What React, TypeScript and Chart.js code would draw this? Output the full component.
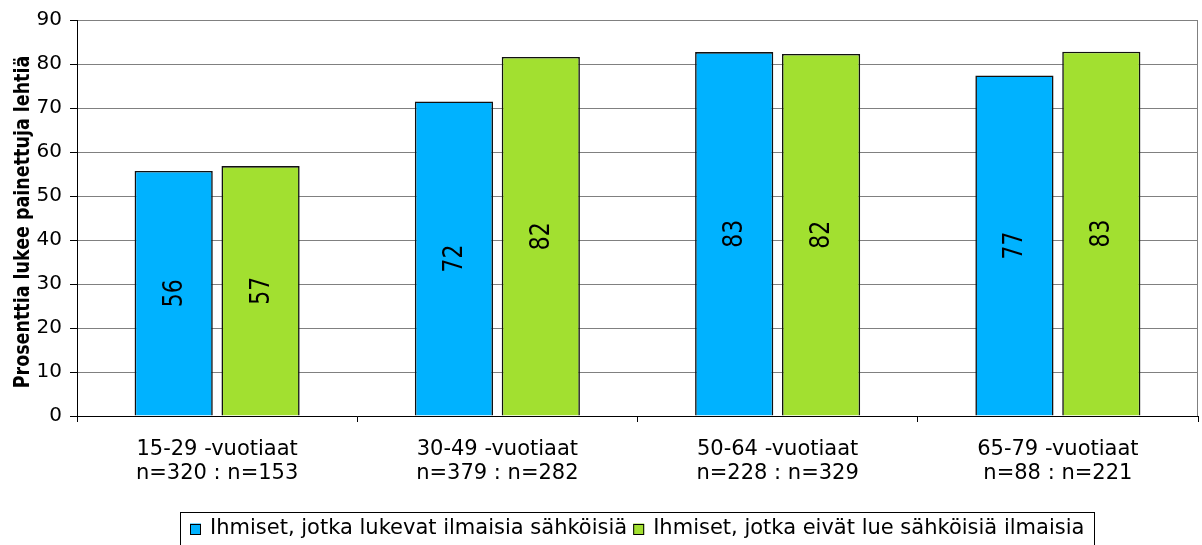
import React, { useEffect, useRef } from "react";
import { Chart, registerables } from "chart.js";

Chart.register(...registerables);

const categories: string[][] = [
  ["15-29 -vuotiaat", "n=320 : n=153"],
  ["30-49 -vuotiaat", "n=379 : n=282"],
  ["50-64 -vuotiaat", "n=228 : n=329"],
  ["65-79 -vuotiaat", "n=88 : n=221"],
];
const seriesLabels = [
  "Ihmiset, jotka lukevat ilmaisia sähköisiä",
  "Ihmiset, jotka eivät lue sähköisiä ilmaisia",
];
const freeReaders = [55.7, 71.5, 82.7, 77.4];
const nonReaders = [56.8, 81.6, 82.3, 82.8];
const seriesColors = ["#00B2FF", "#A2E030"];
const yTitle = "Prosenttia lukee painettuja lehtiä";
const FONT = "'DejaVu Sans', Verdana, sans-serif";

const decorPlugin = {
  id: "decor",
  afterDatasetsDraw(chart: any) {
    const ctx = chart.ctx;
    const area = chart.chartArea;
    ctx.save();
    // right border
    ctx.strokeStyle = "#808080";
    ctx.lineWidth = 1;
    ctx.beginPath();
    ctx.moveTo(Math.round(area.right) - 0.5, area.top);
    ctx.lineTo(Math.round(area.right) - 0.5, area.bottom);
    ctx.stroke();
    // data labels
    ctx.fillStyle = "#000";
    ctx.font = `22px ${FONT}`;
    ctx.textAlign = "center";
    ctx.textBaseline = "middle";
    chart.data.datasets.forEach((ds: any, di: number) => {
      const meta = chart.getDatasetMeta(di);
      meta.data.forEach((bar: any, i: number) => {
        const cy = (bar.y + bar.base) / 2;
        ctx.save();
        ctx.translate(bar.x, cy);
        ctx.scale(1.2, 1);
        ctx.rotate(-Math.PI / 2);
        ctx.fillText(String(Math.round(ds.data[i])), 0, 1);
        ctx.restore();
      });
    });
    // y title
    ctx.save();
    ctx.font = `bold 17.5px ${FONT}`;
    ctx.textBaseline = "alphabetic";
    ctx.translate(29, 222);
    ctx.scale(1.2, 1);
    ctx.rotate(-Math.PI / 2);
    ctx.fillText(yTitle, 0, 0);
    ctx.restore();
    // legend
    ctx.font = `21px ${FONT}`;
    ctx.textAlign = "left";
    const box = 11;
    const gapAfterBox = 9;
    const gapItems = 6;
    const widths = chart.data.datasets.map((d: any) => ctx.measureText(d.label).width);
    let total = 0;
    widths.forEach((w: number, i: number) => {
      total += box + gapAfterBox + w + (i < widths.length - 1 ? gapItems : 0);
    });
    const padX = 10;
    const cx = (area.left + area.right) / 2;
    const left = Math.round(cx - total / 2 - padX);
    const top = 512;
    const height = 40;
    ctx.strokeStyle = "#000";
    ctx.lineWidth = 1;
    ctx.strokeRect(left + 0.5, top + 0.5, Math.round(total + 2 * padX), height);
    let x = left + padX;
    const my = 529;
    chart.data.datasets.forEach((d: any, i: number) => {
      ctx.fillStyle = d.backgroundColor;
      ctx.fillRect(x, my - box / 2, box, box);
      ctx.strokeStyle = "#000";
      ctx.strokeRect(x + 0.5, Math.round(my - box / 2) + 0.5, box - 1, box - 1);
      x += box + gapAfterBox;
      ctx.fillStyle = "#000";
      ctx.fillText(d.label, x, my);
      x += widths[i] + gapItems;
    });
    ctx.restore();
  },
};

export default function App() {
  const ref = useRef<HTMLCanvasElement>(null);
  useEffect(() => {
    document.body.style.margin = "0";
    const chart = new Chart(ref.current!, {
      type: "bar",
      data: {
        labels: categories,
        datasets: [
          {
            label: seriesLabels[0],
            data: freeReaders,
            backgroundColor: seriesColors[0],
            borderColor: "#111",
            borderWidth: 1.6,
            categoryPercentage: 0.62,
            barPercentage: 0.9,
          },
          {
            label: seriesLabels[1],
            data: nonReaders,
            backgroundColor: seriesColors[1],
            borderColor: "#111",
            borderWidth: 1.6,
            categoryPercentage: 0.62,
            barPercentage: 0.9,
          },
        ],
      },
      plugins: [decorPlugin],
      options: {
        animation: false,
        responsive: false,
        maintainAspectRatio: false,
        layout: { padding: { left: 0, top: 20, right: 4, bottom: 0 } },
        plugins: {
          legend: { display: false },
          tooltip: { enabled: false },
        },
        scales: {
          x: {
            afterFit: (s: any) => {
              s.height = 129;
            },
            grid: {
              offset: true,
              drawOnChartArea: false,
              tickLength: 6,
              color: "#000",
            },
            border: { color: "#000", width: 1 },
            ticks: {
              color: "#000",
              font: { family: FONT, size: 21, lineHeight: 1.15 },
              padding: 15,
              maxRotation: 0,
              autoSkip: false,
            },
          },
          y: {
            min: 0,
            max: 90,
            afterFit: (s: any) => {
              s.width = 77;
            },
            grid: {
              color: "#808080",
              tickColor: "#000",
              tickLength: 7,
            },
            border: { color: "#000", width: 1 },
            ticks: {
              stepSize: 10,
              color: "#000",
              font: { family: FONT, size: 20 },
              padding: 8,
            },
          },
        },
      },
    });
    return () => chart.destroy();
  }, []);
  return (
    <canvas
      ref={ref}
      width={1202}
      height={545}
      style={{ display: "block", width: 1202, height: 545 }}
    />
  );
}
